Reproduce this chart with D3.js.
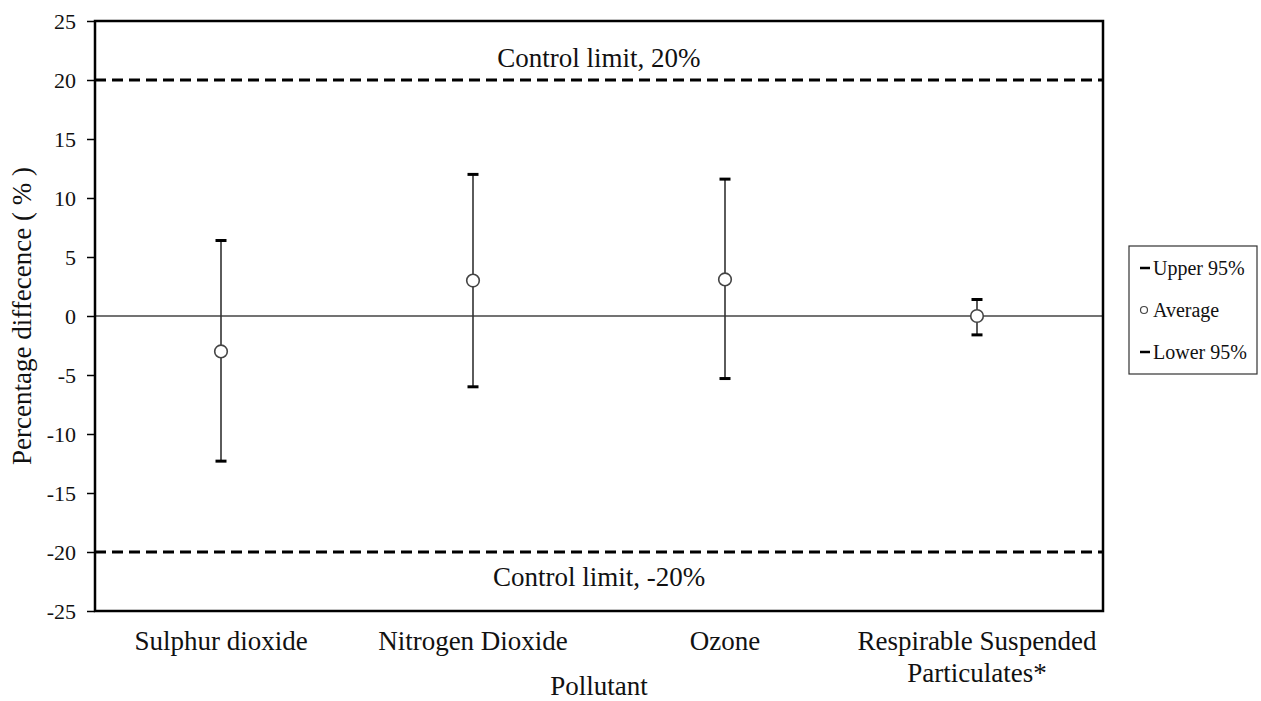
<!DOCTYPE html>
<html>
<head>
<meta charset="utf-8">
<script src="https://cdn.jsdelivr.net/npm/d3@7"></script>
<style>
  body { margin: 0; background: #fff; }
  svg text { font-family: "Liberation Serif", "Times New Roman", serif; fill: #111; }
</style>
</head>
<body>
<svg id="chart" width="1261" height="701"></svg>
<script>
const pollutants = ['Sulphur dioxide', 'Nitrogen Dioxide', 'Ozone', 'Respirable Suspended Particulates*'];
const upper95 = [6.4, 12.0, 11.6, 1.4];
const average = [-3.0, 3.0, 3.1, 0.0];
const lower95 = [-12.3, -6.0, -5.3, -1.6];
const yTicks = [-25, -20, -15, -10, -5, 0, 5, 10, 15, 20, 25];
const controlLimits = [20, -20];

const svg = d3.select('#chart');
const margin = { left: 95, top: 21, right: 158, bottom: 90 };
const width = 1261 - margin.left - margin.right;
const height = 701 - margin.top - margin.bottom;

const x = d3.scaleBand().domain(pollutants).range([0, width]);
const y = d3.scaleLinear().domain([-25, 25]).range([height, 0]);

const g = svg.append('g').attr('transform', `translate(${margin.left},${margin.top})`);

// zero line
g.append('line')
  .attr('x1', 0).attr('x2', width)
  .attr('y1', y(0)).attr('y2', y(0))
  .attr('stroke', '#444').attr('stroke-width', 1.3);

// control limits
controlLimits.forEach(v => {
  g.append('line')
    .attr('x1', 0).attr('x2', width)
    .attr('y1', y(v)).attr('y2', y(v))
    .attr('stroke', '#000').attr('stroke-width', 3.2)
    .attr('stroke-dasharray', '11,6');
});
g.append('text').attr('x', width / 2).attr('y', y(20) - 13)
  .attr('text-anchor', 'middle').attr('font-size', 27).text('Control limit, 20%');
g.append('text').attr('x', width / 2).attr('y', y(-20) + 34)
  .attr('text-anchor', 'middle').attr('font-size', 27).text('Control limit, -20%');

// error bars
const idx = d3.range(pollutants.length);
const cx = i => x(pollutants[i]) + x.bandwidth() / 2;

g.selectAll('.err').data(idx).join('line')
  .attr('x1', cx).attr('x2', cx)
  .attr('y1', i => y(upper95[i])).attr('y2', i => y(lower95[i]))
  .attr('stroke', '#333').attr('stroke-width', 1.6);

[upper95, lower95].forEach(arr => {
  g.selectAll(null).data(idx).join('line')
    .attr('x1', i => cx(i) - 5.5).attr('x2', i => cx(i) + 5.5)
    .attr('y1', i => y(arr[i])).attr('y2', i => y(arr[i]))
    .attr('stroke', '#000').attr('stroke-width', 3);
});

g.selectAll('.avg').data(idx).join('circle')
  .attr('cx', cx).attr('cy', i => y(average[i]))
  .attr('r', 6.3)
  .attr('fill', '#fff').attr('stroke', '#444').attr('stroke-width', 1.6);

// frame
g.append('rect').attr('width', width).attr('height', height)
  .attr('fill', 'none').attr('stroke', '#000').attr('stroke-width', 2.5);

// y axis
const yAxis = g.append('g')
  .call(d3.axisLeft(y).tickValues(yTicks).tickFormat(d => String(d)).tickSize(8).tickPadding(11));
yAxis.select('.domain').remove();
yAxis.selectAll('line').attr('stroke', '#000').attr('stroke-width', 1.5);
yAxis.selectAll('text').attr('font-size', 22).attr('font-family', '"Liberation Serif", serif').attr('fill', '#111');

// x labels
const xl = g.append('g');
pollutants.forEach((p, i) => {
  const t = xl.append('text').attr('x', cx(i)).attr('y', height + 39)
    .attr('text-anchor', 'middle').attr('font-size', 27);
  if (p.startsWith('Respirable')) {
    t.append('tspan').attr('x', cx(i)).text('Respirable Suspended');
    t.append('tspan').attr('x', cx(i)).attr('dy', 32).text('Particulates*');
  } else {
    t.text(p);
  }
});

g.append('text').attr('x', width / 2).attr('y', height + 84)
  .attr('text-anchor', 'middle').attr('font-size', 27).text('Pollutant');

svg.append('text')
  .attr('transform', `translate(31,${margin.top + y(0)}) rotate(-90)`)
  .attr('text-anchor', 'middle').attr('font-size', 27).text('Percentage diffecence ( % )');

// legend
const lg = svg.append('g').attr('transform', 'translate(1129,246)');
lg.append('rect').attr('width', 128).attr('height', 128)
  .attr('fill', '#fff').attr('stroke', '#333').attr('stroke-width', 1.2);
const legendItems = [
  { label: 'Upper 95%', kind: 'dash' },
  { label: 'Average', kind: 'circle' },
  { label: 'Lower 95%', kind: 'dash' }
];
legendItems.forEach((d, i) => {
  const ly = 22 + i * 42;
  if (d.kind === 'dash') {
    lg.append('line').attr('x1', 11).attr('x2', 21).attr('y1', ly).attr('y2', ly)
      .attr('stroke', '#000').attr('stroke-width', 2.5);
  } else {
    lg.append('circle').attr('cx', 15).attr('cy', ly).attr('r', 3.5)
      .attr('fill', '#fff').attr('stroke', '#444').attr('stroke-width', 1.2);
  }
  lg.append('text').attr('x', 24).attr('y', ly + 6.5).attr('font-size', 20).text(d.label);
});
</script>
</body>
</html>
